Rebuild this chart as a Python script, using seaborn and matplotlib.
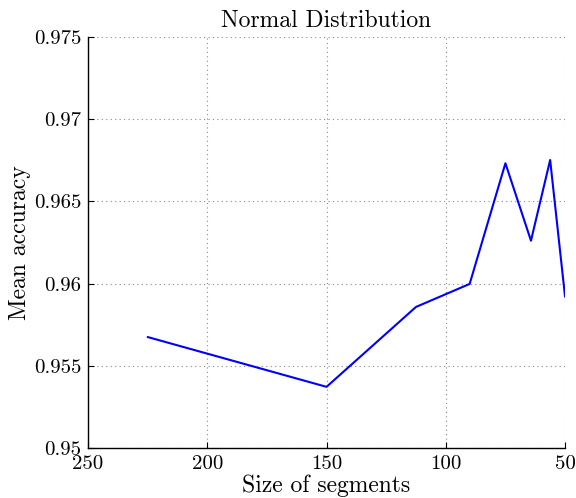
import matplotlib
matplotlib.use("Agg")
import matplotlib.pyplot as plt
import seaborn as sns
import pandas as pd

segment_sizes = [225, 150, 112.5, 90, 75, 64.29, 56.25, 50]
mean_accuracy = [0.95675, 0.95372, 0.95858, 0.95998, 0.96732, 0.96261, 0.96752, 0.9592]
x_ticks = [250, 200, 150, 100, 50]
y_ticks = [0.95, 0.955, 0.96, 0.965, 0.97, 0.975]
y_tick_labels = ["0.95", "0.955", "0.96", "0.965", "0.97", "0.975"]

sns.set_theme(style="white")
plt.rcParams["font.family"] = ["cmr10", "DejaVu Serif"]
plt.rcParams["axes.formatter.use_mathtext"] = True
plt.rcParams["text.color"] = "black"
plt.rcParams["axes.labelcolor"] = "black"

df = pd.DataFrame({"size": segment_sizes, "acc": mean_accuracy})

fig = plt.figure(figsize=(5.76, 4.98), dpi=100)
ax = fig.add_axes([0.1528, 0.1004, 0.981 - 0.1528, 0.9257 - 0.1004])
sns.lineplot(data=df, x="size", y="acc", ax=ax, color="#0000ff", linewidth=1.5, sort=False)

ax.set_xlim(250, 50)
ax.set_ylim(0.95, 0.975)
ax.set_xticks(x_ticks)
ax.set_xticklabels([str(t) for t in x_ticks])
ax.set_yticks(y_ticks)
ax.set_yticklabels(y_tick_labels)
ax.grid(True, linestyle=(0, (1, 3)), color="#888888", linewidth=0.8)
for s in ["top", "right"]:
    ax.spines[s].set_visible(False)
for s in ["left", "bottom"]:
    ax.spines[s].set_color("black")
    ax.spines[s].set_linewidth(1.0)
ax.tick_params(direction="in", length=4, width=0.8, colors="black", labelsize=15, left=True, bottom=True, pad=5)
ax.set_xlabel("Size of segments", fontsize=17, labelpad=1, color="black")
ax.set_ylabel("Mean accuracy", fontsize=17, labelpad=2, color="black")
ax.set_title("Normal Distribution", fontsize=17, pad=7, color="black")

fig.savefig("out.png", dpi=100)
